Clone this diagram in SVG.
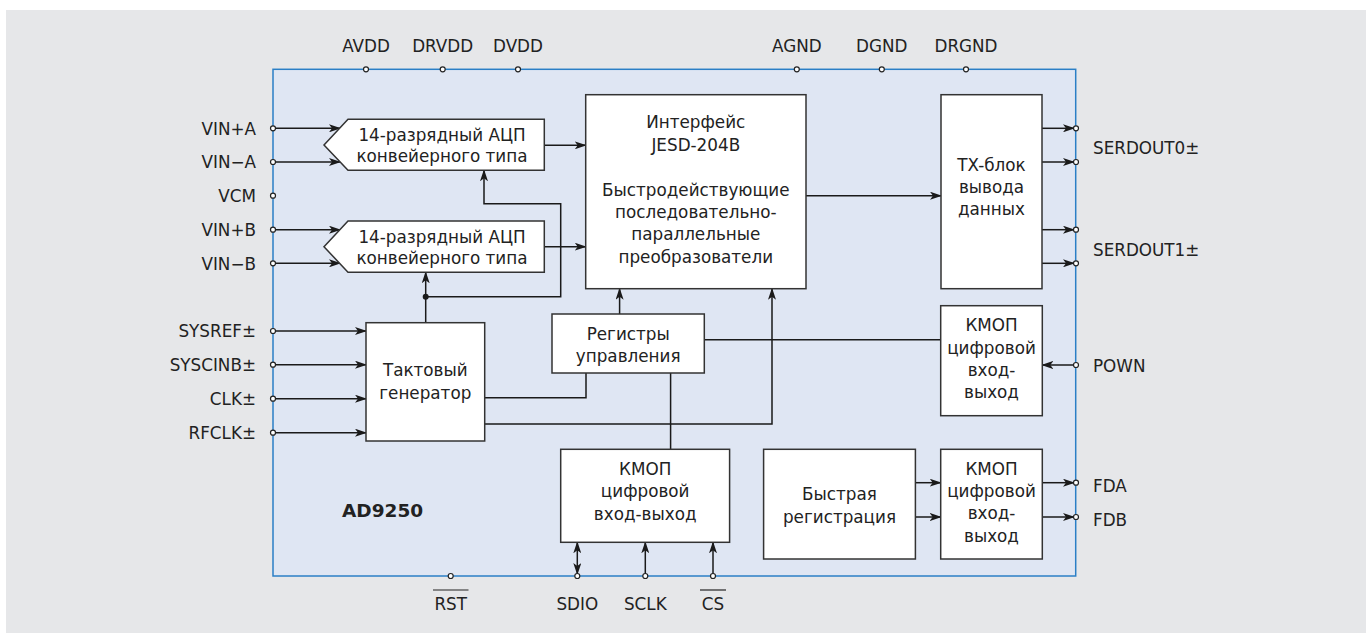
<svg xmlns="http://www.w3.org/2000/svg" width="1370" height="633" viewBox="0 0 1370 633">
<defs>
<marker id="ah" viewBox="0 0 12 8" refX="11" refY="4" markerWidth="12" markerHeight="8" markerUnits="userSpaceOnUse" orient="auto-start-reverse">
<path d="M0,0 L12,4 L0,8 L3,4 z" fill="#1a1a1a"/>
</marker>
</defs>
<style>
text{font-family:"DejaVu Sans","Noto Sans",sans-serif;font-size:16.8px;fill:#222}
.c{text-anchor:middle}
.r{text-anchor:end}
.box{fill:#fff;stroke:#333;stroke-width:1.5}
.w{fill:none;stroke:#1a1a1a;stroke-width:1.5}
.a{marker-end:url(#ah)}
.pin{fill:#fff;stroke:#222;stroke-width:1.2}
.ov{stroke:#222;stroke-width:1.2}
</style>
<rect x="6" y="10" width="1360" height="623" fill="#e6e7e9"/>
<rect x="273" y="69.3" width="802.7" height="506.7" fill="#dfe6f3" stroke="#2b7fc6" stroke-width="1.5"/>

<g id="connectors">
<path class="w a" d="M273,128.3 H340"/>
<path class="w a" d="M273,162 H340"/>
<path class="w a" d="M273,229.7 H340"/>
<path class="w a" d="M273,263.3 H340"/>
<path class="w a" d="M544.3,145.3 H585.7"/>
<path class="w a" d="M544.3,246.7 H585.7"/>
<path class="w a" d="M425.7,296.7 H560.7 V203.7 H484 V170.3"/>
<path class="w a" d="M425.7,322.7 V272.3"/>
<circle cx="425.7" cy="296.7" r="3" fill="#1a1a1a"/>
<path class="w a" d="M273,331 H366"/>
<path class="w a" d="M273,364.7 H366"/>
<path class="w a" d="M273,398.7 H366"/>
<path class="w a" d="M273,432.7 H366"/>
<path class="w" d="M484.7,397.7 H586 V373"/>
<path class="w a" d="M484.7,424 H772 V288.7"/>
<path class="w a" d="M619.6,314 V288.7"/>
<path class="w" d="M704.3,339.7 H940.7"/>
<path class="w" d="M670.6,373 V449.3"/>
<path class="w a" d="M806,195.7 H941"/>
<path class="w a" d="M1042,128.3 H1074"/>
<path class="w a" d="M1042,162 H1074"/>
<path class="w a" d="M1042,229.7 H1074"/>
<path class="w a" d="M1042,263.3 H1074"/>
<path class="w a" d="M1076,365 H1042.3"/>
<path class="w a" d="M915.4,482.7 H940.7"/>
<path class="w a" d="M915.4,517 H940.7"/>
<path class="w a" d="M1042.3,482.7 H1074"/>
<path class="w a" d="M1042.3,517 H1074"/>
<path class="w a" d="M577.3,574 V542.3" style="marker-start:url(#ah)"/>
<path class="w a" d="M645.3,576 V542.3"/>
<path class="w a" d="M713,576 V542.3"/>
</g>

<g id="pins">
<circle class="pin" cx="366" cy="69.3" r="2.5"/>
<circle class="pin" cx="442.7" cy="69.3" r="2.5"/>
<circle class="pin" cx="518" cy="69.3" r="2.5"/>
<circle class="pin" cx="796.8" cy="69.3" r="2.5"/>
<circle class="pin" cx="881.8" cy="69.3" r="2.5"/>
<circle class="pin" cx="966" cy="69.3" r="2.5"/>
<circle class="pin" cx="273" cy="128.3" r="2.5"/>
<circle class="pin" cx="273" cy="162" r="2.5"/>
<circle class="pin" cx="273" cy="195.7" r="2.5"/>
<circle class="pin" cx="273" cy="229.7" r="2.5"/>
<circle class="pin" cx="273" cy="263.3" r="2.5"/>
<circle class="pin" cx="273" cy="331" r="2.5"/>
<circle class="pin" cx="273" cy="364.7" r="2.5"/>
<circle class="pin" cx="273" cy="398.7" r="2.5"/>
<circle class="pin" cx="273" cy="432.7" r="2.5"/>
<circle class="pin" cx="1076" cy="128.3" r="2.5"/>
<circle class="pin" cx="1076" cy="162" r="2.5"/>
<circle class="pin" cx="1076" cy="229.7" r="2.5"/>
<circle class="pin" cx="1076" cy="263.3" r="2.5"/>
<circle class="pin" cx="1076" cy="365" r="2.5"/>
<circle class="pin" cx="1076" cy="482.7" r="2.5"/>
<circle class="pin" cx="1076" cy="517" r="2.5"/>
<circle class="pin" cx="450.7" cy="576" r="2.5"/>
<circle class="pin" cx="577.3" cy="576" r="2.5"/>
<circle class="pin" cx="645.3" cy="576" r="2.5"/>
<circle class="pin" cx="713" cy="576" r="2.5"/>
</g>

<g id="pin-labels">
<text class="c" x="366" y="51.5">AVDD</text>
<text class="c" x="442.7" y="51.5">DRVDD</text>
<text class="c" x="518" y="51.5">DVDD</text>
<text class="c" x="796.8" y="51.5">AGND</text>
<text class="c" x="881.8" y="51.5">DGND</text>
<text class="c" x="966" y="51.5">DRGND</text>
<text class="r" x="256" y="134.5">VIN+A</text>
<text class="r" x="256" y="168">VIN−A</text>
<text class="r" x="256" y="202">VCM</text>
<text class="r" x="256" y="236">VIN+B</text>
<text class="r" x="256" y="269.5">VIN−B</text>
<text class="r" x="256" y="337">SYSREF±</text>
<text class="r" x="256" y="371">SYSCINB±</text>
<text class="r" x="256" y="405">CLK±</text>
<text class="r" x="256" y="439">RFCLK±</text>
<text x="1093" y="154">SERDOUT0±</text>
<text x="1093" y="255.5">SERDOUT1±</text>
<text x="1093" y="372">POWN</text>
<text x="1093" y="492">FDA</text>
<text x="1093" y="526">FDB</text>
<text class="c" x="450.7" y="610">RST</text>
<line class="ov" x1="433" y1="590" x2="468.5" y2="590"/>
<text class="c" x="713" y="610">CS</text>
<line class="ov" x1="700" y1="590" x2="726" y2="590"/>
<text class="c" x="577.3" y="610">SDIO</text>
<text class="c" x="645.3" y="610">SCLK</text>
<text x="342" y="517" style="font-weight:bold;font-size:18.5px">AD9250</text>
</g>

<g id="adc1">
<path class="box" d="M324,145 L348,119.3 H544.3 V170.3 H348 Z"/>
<text class="c" x="442" y="141">14-разрядный АЦП</text>
<text class="c" x="442" y="162">конвейерного типа</text>
</g>
<g id="adc2">
<path class="box" d="M324,246.7 L348,221 H544.3 V272.3 H348 Z"/>
<text class="c" x="442" y="242.5">14-разрядный АЦП</text>
<text class="c" x="442" y="263.5">конвейерного типа</text>
</g>
<g id="jesd">
<rect class="box" x="585.7" y="94.7" width="220.3" height="194"/>
<text class="c" x="695.8" y="127.5">Интерфейс</text>
<text class="c" x="695.8" y="151">JESD-204B</text>
<text class="c" x="695.8" y="196">Быстродействующие</text>
<text class="c" x="695.8" y="218.3">последовательно-</text>
<text class="c" x="695.8" y="240.3">параллельные</text>
<text class="c" x="695.8" y="262.7">преобразователи</text>
</g>
<g id="tx">
<rect class="box" x="941" y="94.7" width="101" height="194"/>
<text class="c" x="991.5" y="171">TX-блок</text>
<text class="c" x="991.5" y="192.7">вывода</text>
<text class="c" x="991.5" y="215">данных</text>
</g>
<g id="clockgen">
<rect class="box" x="366" y="322.7" width="118.7" height="118.3"/>
<text class="c" x="425.3" y="376">Тактовый</text>
<text class="c" x="425.3" y="399">генератор</text>
</g>
<g id="regs">
<rect class="box" x="552" y="314" width="152.3" height="59"/>
<text class="c" x="628.2" y="340.3">Регистры</text>
<text class="c" x="628.2" y="362">управления</text>
</g>
<g id="cmos-pown">
<rect class="box" x="940.7" y="305.7" width="101.6" height="110"/>
<text class="c" x="991.5" y="331">КМОП</text>
<text class="c" x="991.5" y="354.3">цифровой</text>
<text class="c" x="991.5" y="376">вход-</text>
<text class="c" x="991.5" y="397.7">выход</text>
</g>
<g id="cmos-spi">
<rect class="box" x="560.7" y="449.3" width="168.9" height="93"/>
<text class="c" x="645.2" y="474.7">КМОП</text>
<text class="c" x="645.2" y="497">цифровой</text>
<text class="c" x="645.2" y="520">вход-выход</text>
</g>
<g id="fastreg">
<rect class="box" x="763.6" y="449.3" width="151.8" height="109.7"/>
<text class="c" x="839.5" y="500">Быстрая</text>
<text class="c" x="839.5" y="523">регистрация</text>
</g>
<g id="cmos-fd">
<rect class="box" x="940.7" y="449.3" width="101.6" height="109.7"/>
<text class="c" x="991.5" y="474.7">КМОП</text>
<text class="c" x="991.5" y="497.3">цифровой</text>
<text class="c" x="991.5" y="519.3">вход-</text>
<text class="c" x="991.5" y="542">выход</text>
</g>
</svg>
